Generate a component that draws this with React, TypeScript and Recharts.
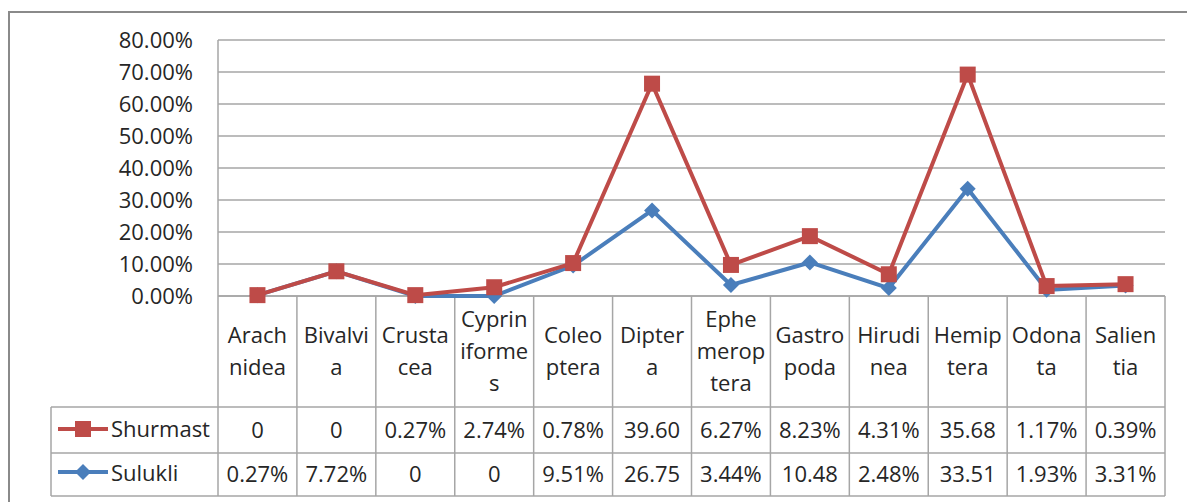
import React from 'react';
import { ComposedChart, Area, XAxis, YAxis, CartesianGrid } from 'recharts';

const categories = [
  'Arachnidea', 'Bivalvia', 'Crustacea', 'Cypriniformes', 'Coleoptera', 'Diptera',
  'Ephemeroptera', 'Gastropoda', 'Hirudinea', 'Hemiptera', 'Odonata', 'Salientia',
];

// how Excel wrapped the names inside the table header
const headerLines = [
  ['Arach', 'nidea'], ['Bivalvi', 'a'], ['Crusta', 'cea'], ['Cyprin', 'iforme', 's'],
  ['Coleo', 'ptera'], ['Dipter', 'a'], ['Ephe', 'merop', 'tera'], ['Gastro', 'poda'],
  ['Hirudi', 'nea'], ['Hemip', 'tera'], ['Odona', 'ta'], ['Salien', 'tia'],
];

const shurmast = [0, 0, 0.27, 2.74, 0.78, 39.6, 6.27, 8.23, 4.31, 35.68, 1.17, 0.39];
const sulukli = [0.27, 7.72, 0, 0, 9.51, 26.75, 3.44, 10.48, 2.48, 33.51, 1.93, 3.31];

// cell text as printed in the data table
const shurmastLabels = ['0', '0', '0.27%', '2.74%', '0.78%', '39.60', '6.27%', '8.23%', '4.31%', '35.68', '1.17%', '0.39%'];
const sulukliLabels = ['0.27%', '7.72%', '0', '0', '9.51%', '26.75', '3.44%', '10.48', '2.48%', '33.51', '1.93%', '3.31%'];

const yTicks = [0, 10, 20, 30, 40, 50, 60, 70, 80];

const data = categories.map((name, i) => ({
  name,
  Sulukli: sulukli[i],
  Shurmast: shurmast[i],
}));

const RED = '#BE4B48';
const BLUE = '#4A7EBB';
const GRID = '#a6a6a6';
const TEXT = '#262626';
const FONT = '"Open Sans", sans-serif';
const FS = 22;

const W = 1187;
const H = 502;
const PLOT_L = 218;
const PLOT_R = 1165;
const PLOT_T = 40;
const PLOT_B = 296;
const COL_W = (PLOT_R - PLOT_L) / categories.length;
const LEG_L = 51;
const ROW1 = 407;
const ROW2 = 453;
const ROW3 = 496;

function Square(props: any) {
  const { cx, cy } = props;
  if (cx == null || cy == null) return null;
  return <rect x={cx - 8} y={cy - 8} width={16} height={16} fill={RED} />;
}

function Diamond(props: any) {
  const { cx, cy } = props;
  if (cx == null || cy == null) return null;
  const r = 8;
  return <path d={`M${cx},${cy - r}L${cx + r},${cy}L${cx},${cy + r}L${cx - r},${cy}Z`} fill={BLUE} />;
}

function DataTable() {
  const colX = (i: number) => PLOT_L + i * COL_W;
  return (
    <svg width={W} height={H} style={{ position: 'absolute', left: 0, top: 0 }}>
      <g stroke={GRID} strokeWidth={1.5}>
        {categories.map((_, i) => (
          <line key={i} x1={colX(i)} x2={colX(i)} y1={PLOT_B} y2={ROW3} />
        ))}
        <line x1={PLOT_R} x2={PLOT_R} y1={PLOT_B} y2={ROW3} />
        <line x1={LEG_L} x2={LEG_L} y1={ROW1} y2={ROW3} />
        <line x1={PLOT_L} x2={PLOT_R} y1={PLOT_B} y2={PLOT_B} />
        <line x1={LEG_L} x2={PLOT_R} y1={ROW1} y2={ROW1} />
        <line x1={LEG_L} x2={PLOT_R} y1={ROW2} y2={ROW2} />
        <line x1={LEG_L} x2={PLOT_R} y1={ROW3} y2={ROW3} />
      </g>
      <g fontFamily={FONT} fontSize={FS} fill={TEXT} textAnchor="middle">
        {headerLines.map((lines, i) =>
          lines.map((t, j) => (
            <text
              key={`${i}-${j}`}
              x={colX(i) + COL_W / 2}
              y={(PLOT_B + ROW1) / 2 + (j - (lines.length - 1) / 2) * 32}
              dy="0.36em"
            >
              {t}
            </text>
          ))
        )}
        {shurmastLabels.map((t, i) => (
          <text key={`a${i}`} x={colX(i) + COL_W / 2} y={(ROW1 + ROW2) / 2} dy="0.36em">{t}</text>
        ))}
        {sulukliLabels.map((t, i) => (
          <text key={`b${i}`} x={colX(i) + COL_W / 2} y={(ROW2 + ROW3) / 2} dy="0.36em">{t}</text>
        ))}
      </g>
      {/* legend keys */}
      <line x1={58} x2={108} y1={429} y2={429} stroke={RED} strokeWidth={4} />
      <rect x={75} y={421} width={16} height={16} fill={RED} />
      <line x1={58} x2={108} y1={472} y2={472} stroke={BLUE} strokeWidth={4} />
      <path d="M83,464L91,472L83,480L75,472Z" fill={BLUE} />
      <g fontFamily={FONT} fontSize={FS} fill={TEXT}>
        <text x={111} y={(ROW1 + ROW2) / 2} dy="0.3em">Shurmast</text>
        <text x={111} y={(ROW2 + ROW3) / 2} dy="0.3em">Sulukli</text>
      </g>
    </svg>
  );
}

export default function App() {
  return (
    <div style={{ position: 'relative', width: W, height: H, overflow: 'hidden', background: '#fff' }}>
      <style>{'body{margin:0}'}</style>
      <div
        style={{
          position: 'absolute',
          left: 8,
          top: 11,
          width: 1300,
          height: 600,
          border: '2px solid #8a8a8a',
          boxSizing: 'border-box',
        }}
      />
      <DataTable />
      <div style={{ position: 'absolute', left: 0, top: 0 }}>
        <ComposedChart
          width={W}
          height={H}
          data={data}
          margin={{ top: PLOT_T, right: W - PLOT_R, bottom: H - PLOT_B, left: 0 }}
        >
          <CartesianGrid horizontal vertical={false} stroke={GRID} strokeWidth={1.5} />
          <XAxis dataKey="name" hide padding={{ left: COL_W / 2, right: COL_W / 2 }} />
          <YAxis
            width={PLOT_L}
            domain={[0, 80]}
            ticks={yTicks}
            interval={0}
            tickFormatter={(v: number) => `${v.toFixed(2)}%`}
            tickLine={false}
            tickSize={0}
            tickMargin={25}
            axisLine={{ stroke: GRID, strokeWidth: 1.5 }}
            tick={{ fill: TEXT, fontSize: FS, fontFamily: FONT }}
          />
          <Area
            type="linear"
            dataKey="Sulukli"
            stackId="s"
            stroke={BLUE}
            strokeWidth={4}
            fill="none"
            dot={<Diamond />}
            activeDot={false}
            isAnimationActive={false}
          />
          <Area
            type="linear"
            dataKey="Shurmast"
            stackId="s"
            stroke={RED}
            strokeWidth={4}
            fill="none"
            dot={<Square />}
            activeDot={false}
            isAnimationActive={false}
          />
        </ComposedChart>
      </div>
    </div>
  );
}
